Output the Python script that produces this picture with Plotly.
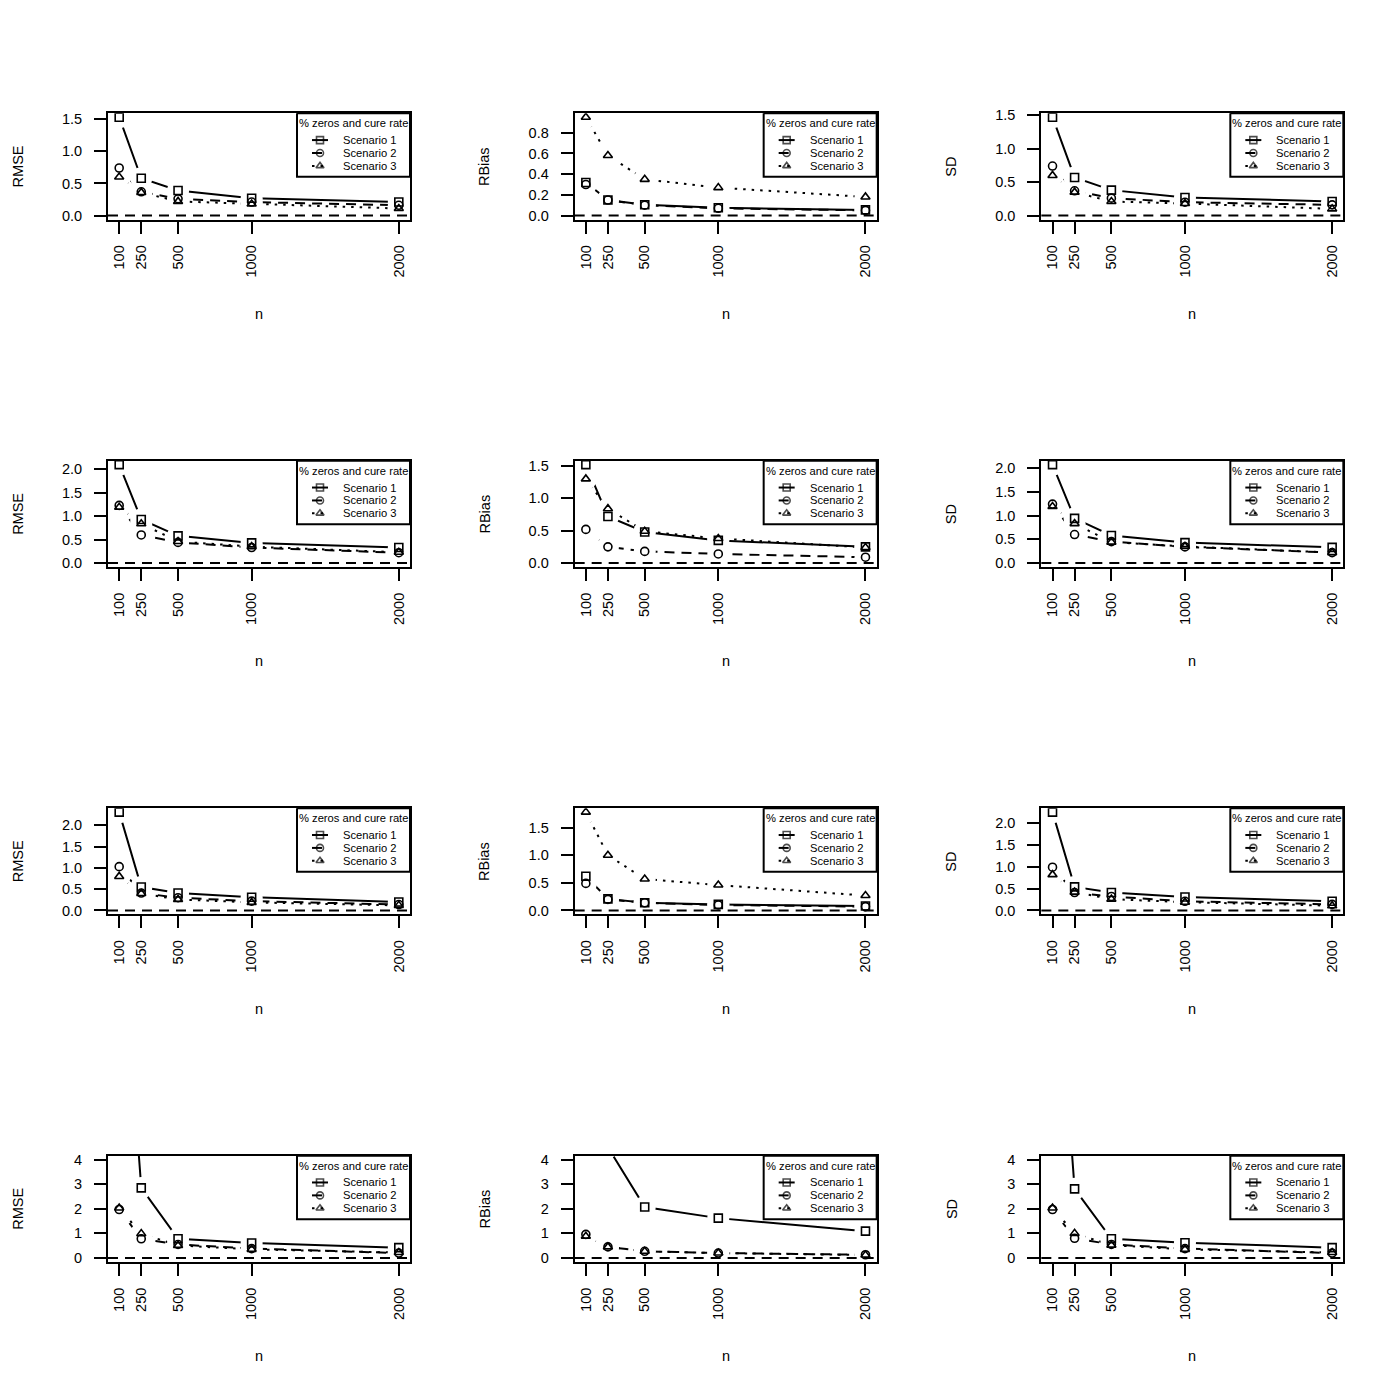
import plotly.graph_objects as go

n = [100, 250, 500, 1000, 2000]
scenarios = ["Scenario 1", "Scenario 2", "Scenario 3"]

# each panel: [scenario 1, scenario 2, scenario 3]
rmse_r1 = [[1.53, 0.58, 0.39, 0.27, 0.21], [0.74, 0.37, 0.26, 0.21, 0.16], [0.60, 0.36, 0.22, 0.18, 0.11]]
rbias_r1 = [[0.32, 0.15, 0.105, 0.075, 0.055], [0.30, 0.15, 0.10, 0.07, 0.05], [0.95, 0.58, 0.35, 0.27, 0.18]]
sd_r1 = [[1.47, 0.57, 0.38, 0.27, 0.21], [0.74, 0.37, 0.26, 0.20, 0.16], [0.60, 0.35, 0.21, 0.18, 0.10]]

rmse_r2 = [[2.10, 0.93, 0.58, 0.43, 0.33], [1.23, 0.60, 0.44, 0.33, 0.22], [1.19, 0.84, 0.46, 0.35, 0.23]]
rbias_r2 = [[1.52, 0.72, 0.48, 0.35, 0.25], [0.52, 0.25, 0.18, 0.14, 0.09], [1.30, 0.84, 0.49, 0.38, 0.24]]
sd_r2 = [[2.07, 0.94, 0.58, 0.43, 0.33], [1.24, 0.60, 0.45, 0.34, 0.22], [1.19, 0.83, 0.44, 0.35, 0.22]]

rmse_r3 = [[2.31, 0.55, 0.41, 0.31, 0.20], [1.03, 0.41, 0.30, 0.22, 0.14], [0.80, 0.40, 0.26, 0.19, 0.12]]
rbias_r3 = [[0.62, 0.21, 0.14, 0.11, 0.08], [0.49, 0.20, 0.14, 0.10, 0.07], [1.78, 1.00, 0.57, 0.46, 0.27]]
sd_r3 = [[2.25, 0.54, 0.41, 0.31, 0.21], [0.99, 0.41, 0.32, 0.21, 0.14], [0.82, 0.42, 0.26, 0.19, 0.11]]

rmse_r4 = [[15.0, 2.85, 0.78, 0.61, 0.42], [1.97, 0.78, 0.55, 0.38, 0.20], [2.03, 0.99, 0.51, 0.35, 0.22]]
rbias_r4 = [[9.0, 4.5, 2.07, 1.62, 1.09], [0.96, 0.45, 0.27, 0.20, 0.13], [0.88, 0.45, 0.27, 0.20, 0.12]]
sd_r4 = [[15.0, 2.81, 0.78, 0.62, 0.42], [1.97, 0.80, 0.55, 0.38, 0.20], [2.03, 1.00, 0.52, 0.35, 0.22]]

panels = [rmse_r1, rbias_r1, sd_r1, rmse_r2, rbias_r2, sd_r2,
          rmse_r3, rbias_r3, sd_r3, rmse_r4, rbias_r4, sd_r4]
ylabels = ["RMSE", "RBias", "SD"]
row_ymax = [None, None, None, 4]
y_step = [0.5, 0.2, 0.5, 0.5, 0.5, 0.5, 0.5, 0.5, 0.5, 1, 1, 1]
legend_title = "% zeros and cure rate"

# page is 1400 px; the html body adds an 8 px margin around the figure
OFF = 8
FW, FH = 1384, 1380
colw, rowh = 1400 / 3, 350
FONT = "Liberation Sans, Arial, sans-serif"
dashes = ["solid", "10px,7px", "2.5px,6px"]
symbols = ["square-open", "circle-open", "triangle-up-open"]


def px(t):
    return t - OFF


xpad = 0.04 * (max(n) - min(n))
xr = [min(n) - xpad, max(n) + xpad]

fig = go.Figure()
layout = dict(width=FW, height=FH, margin=dict(l=0, r=0, t=0, b=0),
              paper_bgcolor="white", plot_bgcolor="rgba(0,0,0,0)", showlegend=False,
              font=dict(family=FONT, color="black"), annotations=[], shapes=[])

PX, PY = "x13", "y13"
legend_parts = []

for i, data in enumerate(panels):
    r, c = divmod(i, 3)
    k = i + 1
    sfx = "" if k == 1 else str(k)
    xa, ya = "x" + sfx, "y" + sfx

    bl, br = px(108 + c * colw), px(410 + c * colw)
    bt, bb = px(108 + r * rowh), px(215 + r * rowh)

    ymax = row_ymax[r] if row_ymax[r] else max(max(s) for s in data)
    yr = [-0.04 * ymax, 1.04 * ymax]

    # lines
    for s, vals in enumerate(data):
        fig.add_trace(go.Scatter(x=n, y=vals, mode="lines", xaxis=xa, yaxis=ya,
                                 line=dict(color="black", width=2, dash=dashes[s]),
                                 hoverinfo="skip"))
    # white gaps around points (type = "b")
    fig.add_trace(go.Scatter(x=n * 3, y=[v for s in data for v in s], mode="markers",
                             xaxis=xa, yaxis=ya, hoverinfo="skip",
                             marker=dict(symbol="circle", size=22, color="white")))
    # points
    for s, vals in enumerate(data):
        fig.add_trace(go.Scatter(x=n, y=vals, mode="markers", xaxis=xa, yaxis=ya,
                                 name=scenarios[s],
                                 marker=dict(symbol=symbols[s], size=8, color="black",
                                             line=dict(width=1.6, color="black"))))

    layout["xaxis" + sfx] = dict(
        domain=[bl / FW, br / FW], anchor=ya, range=xr,
        tickmode="array", tickvals=n, ticktext=[str(v) for v in n], tickangle=-90,
        ticks="outside", ticklen=12, tickwidth=2, tickcolor="black",
        showline=True, linewidth=2, linecolor="black", mirror=True,
        showgrid=False, zeroline=False, ticklabelstandoff=6,
        tickfont=dict(size=14.5, family=FONT, color="black"))
    layout["yaxis" + sfx] = dict(
        domain=[1 - bb / FH, 1 - bt / FH], anchor=xa, range=yr,
        tick0=0, dtick=y_step[i], tickformat=".0f" if r == 3 else ".1f",
        ticks="outside", ticklen=12, tickwidth=2, tickcolor="black",
        showline=True, linewidth=2, linecolor="black", mirror=True,
        showgrid=False, zeroline=False, ticklabelstandoff=9,
        tickfont=dict(size=14.5, family=FONT, color="black"))

    # abline(h = 0, lty = 2)
    layout["shapes"].append(dict(type="line", xref=xa + " domain", yref=ya,
                                 x0=0, x1=1, y0=0, y1=0, layer="above",
                                 line=dict(color="black", width=2, dash="10px,7px")))

    layout["annotations"].append(dict(
        text=ylabels[c], x=px(18 + c * colw), y=(bt + bb) / 2,
        xref=PX, yref=PY, showarrow=False, textangle=-90,
        xanchor="center", yanchor="middle", font=dict(size=14.5, family=FONT)))
    layout["annotations"].append(dict(
        text="n", x=(bl + br) / 2, y=px(310 + r * rowh),
        xref=PX, yref=PY, showarrow=False,
        xanchor="center", yanchor="middle", font=dict(size=14.5, family=FONT)))

    legend_parts.append((bt, br))

# legends drawn on a pixel overlay axis so they sit on top of the panels
layout["xaxis13"] = dict(domain=[0, 1], range=[0, FW], visible=False, anchor=PY, fixedrange=True)
layout["yaxis13"] = dict(domain=[0, 1], range=[FH, 0], visible=False, anchor=PX, fixedrange=True)

for bt, br in legend_parts:
    lx0, lx1, ly0, ly1 = br - 113, br, bt, bt + 64
    fig.add_trace(go.Scatter(x=[lx0, lx1, lx1, lx0, lx0], y=[ly0, ly0, ly1, ly1, ly0],
                             mode="lines", fill="toself", fillcolor="white",
                             line=dict(color="black", width=2), xaxis=PX, yaxis=PY,
                             hoverinfo="skip"))
    layout["annotations"].append(dict(
        text=legend_title, x=(lx0 + lx1) / 2, y=bt + 10, xref=PX, yref=PY,
        showarrow=False, xanchor="center", yanchor="middle",
        font=dict(size=11.2, family=FONT)))
    for s in range(3):
        yy = bt + 27 + 13 * s
        fig.add_trace(go.Scatter(x=[br - 98, br - 90, br - 82], y=[yy, yy, yy],
                                 mode="lines+markers",
                                 line=dict(color="black", width=2, dash=dashes[s]),
                                 marker=dict(symbol=symbols[s], size=[0, 7, 0], color="black",
                                             line=dict(width=1.6, color="black")),
                                 xaxis=PX, yaxis=PY, hoverinfo="skip"))
        layout["annotations"].append(dict(
            text=scenarios[s], x=br - 69, y=yy, xref=PX, yref=PY,
            showarrow=False, xanchor="left", yanchor="middle",
            font=dict(size=11.2, family=FONT)))

fig.update_layout(**layout)
fig.write_html("out.html")
